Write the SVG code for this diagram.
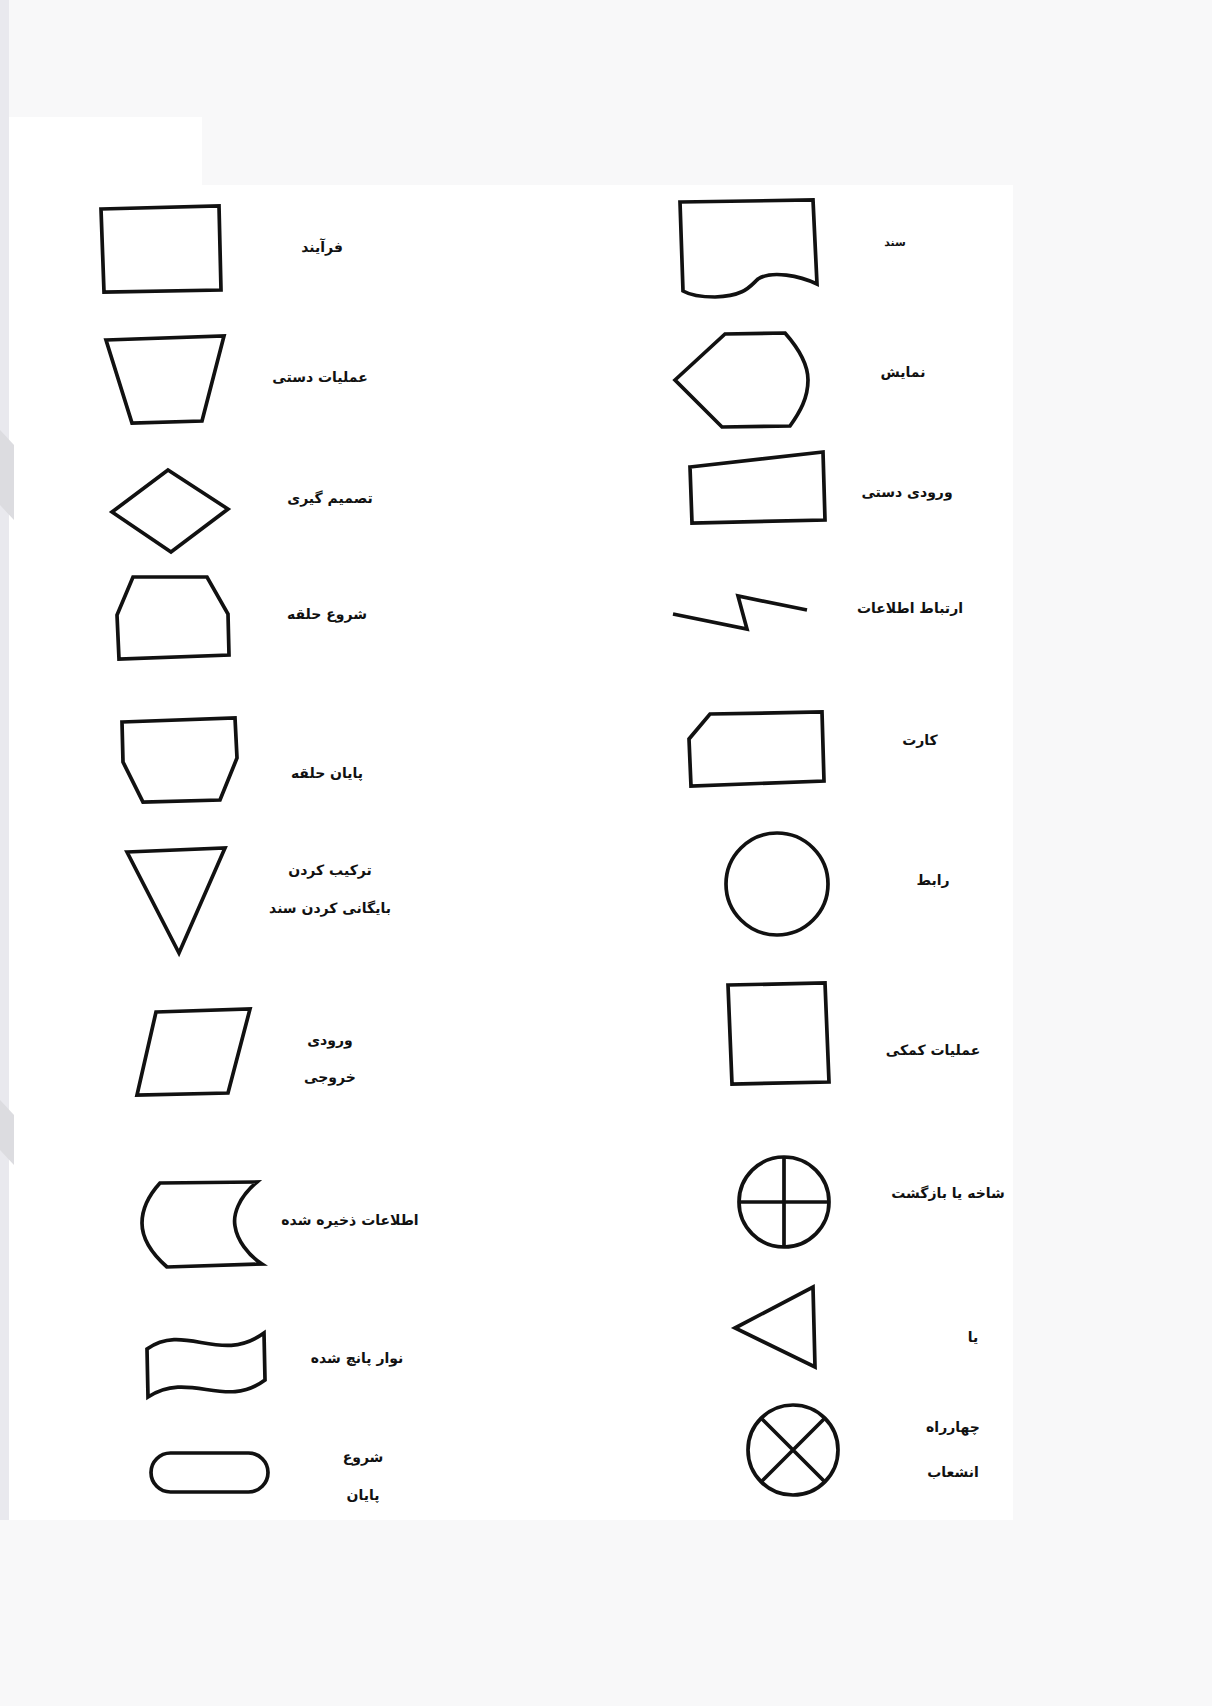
<svg xmlns="http://www.w3.org/2000/svg" width="1212" height="1706" viewBox="0 0 1212 1706">
<style>
.s{fill:none;stroke:#111;stroke-width:3.7;stroke-linejoin:miter}
.t{font-family:"DejaVu Sans",sans-serif;font-size:14px;font-weight:bold;fill:#111;text-anchor:middle;direction:rtl}
</style>
<rect x="0" y="0" width="1212" height="1706" fill="#f8f8f9"/>
<rect x="0" y="0" width="9" height="1520" fill="#e9e9ee"/>
<rect x="9" y="185" width="1004" height="1335" fill="#ffffff"/>
<rect x="9" y="117" width="193" height="70" fill="#ffffff"/>
<polygon points="0,430 14,445 14,520 0,505" fill="#dcdce0"/>
<polygon points="0,1100 14,1115 14,1165 0,1150" fill="#dcdce0"/>
<g id="process"><path class="s" d="M101,209 L219,206 L221,290 L104,292 Z"/><text class="t" x="322" y="252">فرآیند</text></g>
<g id="manual-operation"><path class="s" d="M106,340 L224,336 L202,421 L132,423 Z"/><text class="t" x="320" y="382">عملیات دستی</text></g>
<g id="decision"><path class="s" d="M168,470 L228,509 L171,552 L112,512 Z"/><text class="t" x="330" y="503">تصمیم گیری</text></g>
<g id="loop-start"><path class="s" d="M133,577 L207,577 L228,614 L229,655 L119,659 L117,615 Z"/><text class="t" x="327" y="619">شروع حلقه</text></g>
<g id="loop-end"><path class="s" d="M122,722 L235,718 L237,758 L220,800 L143,802 L123,762 Z"/><text class="t" x="327" y="778">پایان حلقه</text></g>
<g id="merge"><path class="s" d="M127,852 L225,848 L179,953 Z"/><text class="t" x="330" y="875">ترکیب کردن</text><text class="t" x="330" y="913">بایگانی کردن سند</text></g>
<g id="input-output"><path class="s" d="M156,1012 L250,1009 L228,1093 L137,1095 Z"/><text class="t" x="330" y="1045">ورودی</text><text class="t" x="330" y="1082">خروجی</text></g>
<g id="stored-data"><path class="s" d="M160,1183 L257,1182 C238,1198 233,1215 235,1226 C237,1240 248,1255 262,1264 L167,1267 C150,1252 142,1238 142,1223 C142,1208 150,1194 160,1183 Z"/><text class="t" x="350" y="1225">اطلاعات ذخیره شده</text></g>
<g id="punched-tape"><path class="s" d="M147,1349 C185,1322 220,1365 264,1333 L265,1380 C225,1410 190,1370 148,1397 Z"/><text class="t" x="357" y="1363">نوار پانچ شده</text></g>
<g id="terminal"><rect class="s" x="151" y="1453" width="117" height="39" rx="19.5"/><text class="t" x="363" y="1462">شروع</text><text class="t" x="363" y="1500">پایان</text></g>
<g id="document"><path class="s" d="M680,202 L813,200 L817,284 C800,276 772,270 758,279 C750,286 745,296 715,297 C700,297 690,295 683,291 Z"/><text class="t" x="895" y="246" style="font-size:11px">سند</text></g>
<g id="display"><path class="s" d="M675,380 L725,334 L785,333 C800,350 808,365 808,380 C808,398 800,412 790,426 L722,427 Z"/><text class="t" x="903" y="377">نمایش</text></g>
<g id="manual-input"><path class="s" d="M690,467 L823,452 L825,520 L692,523 Z"/><text class="t" x="907" y="497">ورودی دستی</text></g>
<g id="communication-link"><path class="s" d="M673,614 L747,629 L738,596 L807,610" stroke-width="4"/><text class="t" x="910" y="613">ارتباط اطلاعات</text></g>
<g id="card"><path class="s" d="M710,714 L822,712 L824,781 L691,786 L689,739 Z"/><text class="t" x="920" y="745">کارت</text></g>
<g id="connector"><circle class="s" cx="777" cy="884" r="51"/><text class="t" x="933" y="885">رابط</text></g>
<g id="auxiliary-operation"><path class="s" d="M728,985 L825,983 L829,1082 L732,1084 Z"/><text class="t" x="933" y="1055">عملیات کمکی</text></g>
<g id="or-junction"><circle class="s" cx="784" cy="1202" r="45"/><path class="s" d="M784,1157 L784,1247 M739,1202 L829,1202"/><text class="t" x="948" y="1198">شاخه یا بازگشت</text></g>
<g id="extract"><path class="s" d="M735,1328 L813,1287 L815,1367 Z"/><text class="t" x="973" y="1342">یا</text></g>
<g id="summing-junction"><circle class="s" cx="793" cy="1450" r="45"/><path class="s" d="M761,1418 L825,1482 M825,1418 L761,1482"/><text class="t" x="953" y="1432">چهارراه</text><text class="t" x="953" y="1477">انشعاب</text></g>
<g id="connectors"></g>
</svg>
